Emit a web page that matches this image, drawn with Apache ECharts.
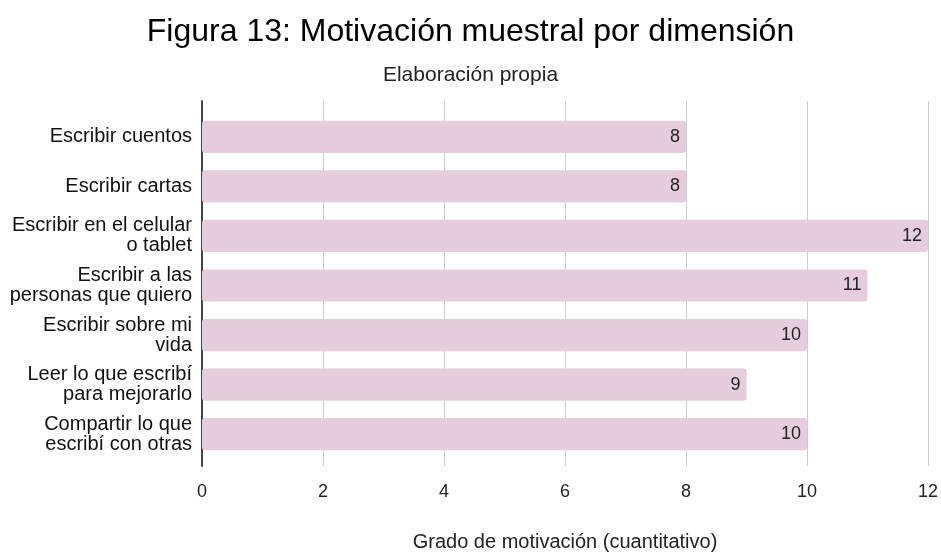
<!DOCTYPE html>
<html><head><meta charset="utf-8">
<script src="https://cdn.jsdelivr.net/npm/echarts@6/dist/echarts.min.js"></script>
<style>html,body{margin:0;padding:0;background:#fff}#c{width:941px;height:552px}</style>
</head><body><div id="c"></div>
<script>
const categories = [
  "Escribir cuentos",
  "Escribir cartas",
  "Escribir en el celular\no tablet",
  "Escribir a las\npersonas que quiero",
  "Escribir sobre mi\nvida",
  "Leer lo que escribí\npara mejorarlo",
  "Compartir lo que\nescribí con otras"
];
const values = [8, 8, 12, 11, 10, 9, 10];
const xTicks = [0, 2, 4, 6, 8, 10, 12];

const chart = echarts.init(document.getElementById('c'), null, {renderer: 'canvas'});
const font = 'Liberation Sans, Arial, sans-serif';
chart.setOption({
  backgroundColor: '#fff',
  animation: false,
  title: {
    text: 'Figura 13: Motivación muestral por dimensión',
    subtext: 'Elaboración propia',
    left: 'center', top: 11,
    textStyle: {fontFamily: font, fontSize: 32, fontWeight: 'normal', color: '#000'},
    subtextStyle: {fontFamily: font, fontSize: 21, color: '#222'},
    itemGap: 17
  },
  grid: [
    {left: 202, right: 13, top: 101, bottom: 86, containLabel: false, outerBoundsMode: 'none'},
    {left: 202, right: 13, top: 112, bottom: 93, containLabel: false, outerBoundsMode: 'none'}
  ],
  xAxis: [{
    gridIndex: 0, type: 'value', min: 0, max: 12, interval: 2,
    name: 'Grado de motivación (cuantitativo)',
    nameLocation: 'middle', nameGap: 66,
    nameTextStyle: {fontFamily: font, fontSize: 20, color: '#222'},
    axisLine: {show: false}, axisTick: {show: false},
    axisLabel: {fontFamily: font, fontSize: 18, color: '#222', margin: 17,
      formatter: v => xTicks.includes(v) ? String(v) : ''},
    splitLine: {lineStyle: {color: '#cccccc', width: 1}}
  }, {
    gridIndex: 1, type: 'value', min: 0, max: 12, interval: 2,
    axisLine: {show: false}, axisTick: {show: false}, axisLabel: {show: false},
    splitLine: {show: false}
  }],
  yAxis: [{
    gridIndex: 0, type: 'value', min: 0, max: 1,
    axisLine: {show: true, lineStyle: {color: '#444', width: 2}},
    axisTick: {show: false}, axisLabel: {show: false}, splitLine: {show: false}
  }, {
    gridIndex: 1, type: 'category', data: categories, inverse: true,
    axisLine: {show: false},
    axisTick: {show: false},
    axisLabel: {fontFamily: font, fontSize: 20, color: '#111', margin: 10, lineHeight: 20, align: 'right'}
  }],
  series: [{
    type: 'bar', xAxisIndex: 1, yAxisIndex: 1, data: values, barCategoryGap: '35%',
    itemStyle: {color: '#e6cddb', borderRadius: 3},
    label: {show: true, position: 'insideRight', distance: 6,
      fontFamily: font, fontSize: 18, color: '#222'}
  }]
});
</script></body></html>
